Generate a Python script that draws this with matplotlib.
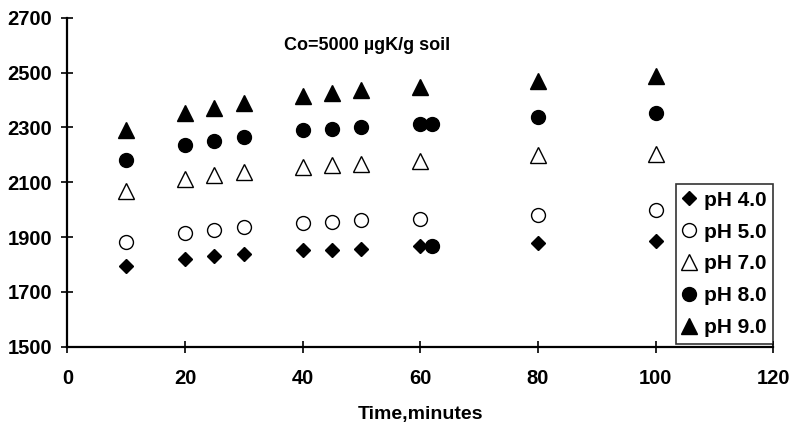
import matplotlib
matplotlib.use("Agg")
import matplotlib.pyplot as plt

plt.rcParams["font.family"] = ["Liberation Sans", "DejaVu Sans"]
plt.rcParams["font.weight"] = "bold"

# sorption time, minutes
times = [10, 20, 25, 30, 40, 45, 50, 60, 80, 100]

ph4 = [1795, 1820, 1830, 1838, 1852, 1853, 1855, 1868, 1877, 1887]
ph5 = [1883, 1915, 1925, 1937, 1952, 1956, 1962, 1965, 1982, 1998]
ph7 = [2070, 2112, 2128, 2138, 2155, 2162, 2165, 2176, 2198, 2205]
ph8 = [2180, 2235, 2250, 2265, 2289, 2293, 2301, 2311, 2338, 2353]
ph9 = [2292, 2351, 2372, 2390, 2414, 2426, 2435, 2449, 2471, 2489]

# two extra pH 8.0 readings logged at 62 min
ph8_extra_t = [62, 62]
ph8_extra = [2311, 1866]

series = [
    ("pH 4.0", ph4, dict(marker="D", ms=7.5, mfc="black", mec="black")),
    ("pH 5.0", ph5, dict(marker="o", ms=10, mfc="white", mec="black", mew=1.0)),
    ("pH 7.0", ph7, dict(marker="^", ms=11, mfc="white", mec="black", mew=1.0)),
    ("pH 8.0", ph8, dict(marker="o", ms=10, mfc="black", mec="black")),
    ("pH 9.0", ph9, dict(marker="^", ms=11, mfc="black", mec="black")),
]

fig = plt.figure(figsize=(7.93, 4.24), dpi=100)
ax = fig.add_axes([0.085, 0.182, 0.89, 0.776])

for label, vals, style in series:
    ax.plot(times, vals, linestyle="none", label=label, **style)
    if label == "pH 8.0":
        ax.plot(ph8_extra_t, ph8_extra, linestyle="none", **style)

ax.set_xlim(0, 120)
ax.set_ylim(1500, 2700)
ax.set_xticks(range(0, 121, 20))
ax.set_yticks(range(1500, 2701, 200))
ax.tick_params(direction="inout", length=8, width=1.2, labelsize=14.5)
ax.tick_params(axis="x", pad=12)
ax.tick_params(axis="y", pad=7)
for lab in ax.get_xticklabels() + ax.get_yticklabels():
    lab.set_fontweight("bold")

for side in ("top", "right"):
    ax.spines[side].set_visible(False)
for side in ("left", "bottom"):
    ax.spines[side].set_linewidth(1.6)

ax.set_xlabel("Time,minutes", fontsize=14, fontweight="bold", labelpad=13)
ax.text(51, 2600, "Co=5000 µgK/g soil", fontsize=13, fontweight="bold",
        ha="center", va="center")

leg = ax.legend(loc="lower right", bbox_to_anchor=(1.0, 0.01), frameon=True,
                fancybox=False, edgecolor="black", fontsize=15,
                handlelength=0.6, handletextpad=0.45, borderpad=0.3,
                labelspacing=0.62, borderaxespad=0.0)
leg.get_frame().set_linewidth(1.2)
for t in leg.get_texts():
    t.set_fontweight("bold")

fig.savefig("out.png", dpi=100)
